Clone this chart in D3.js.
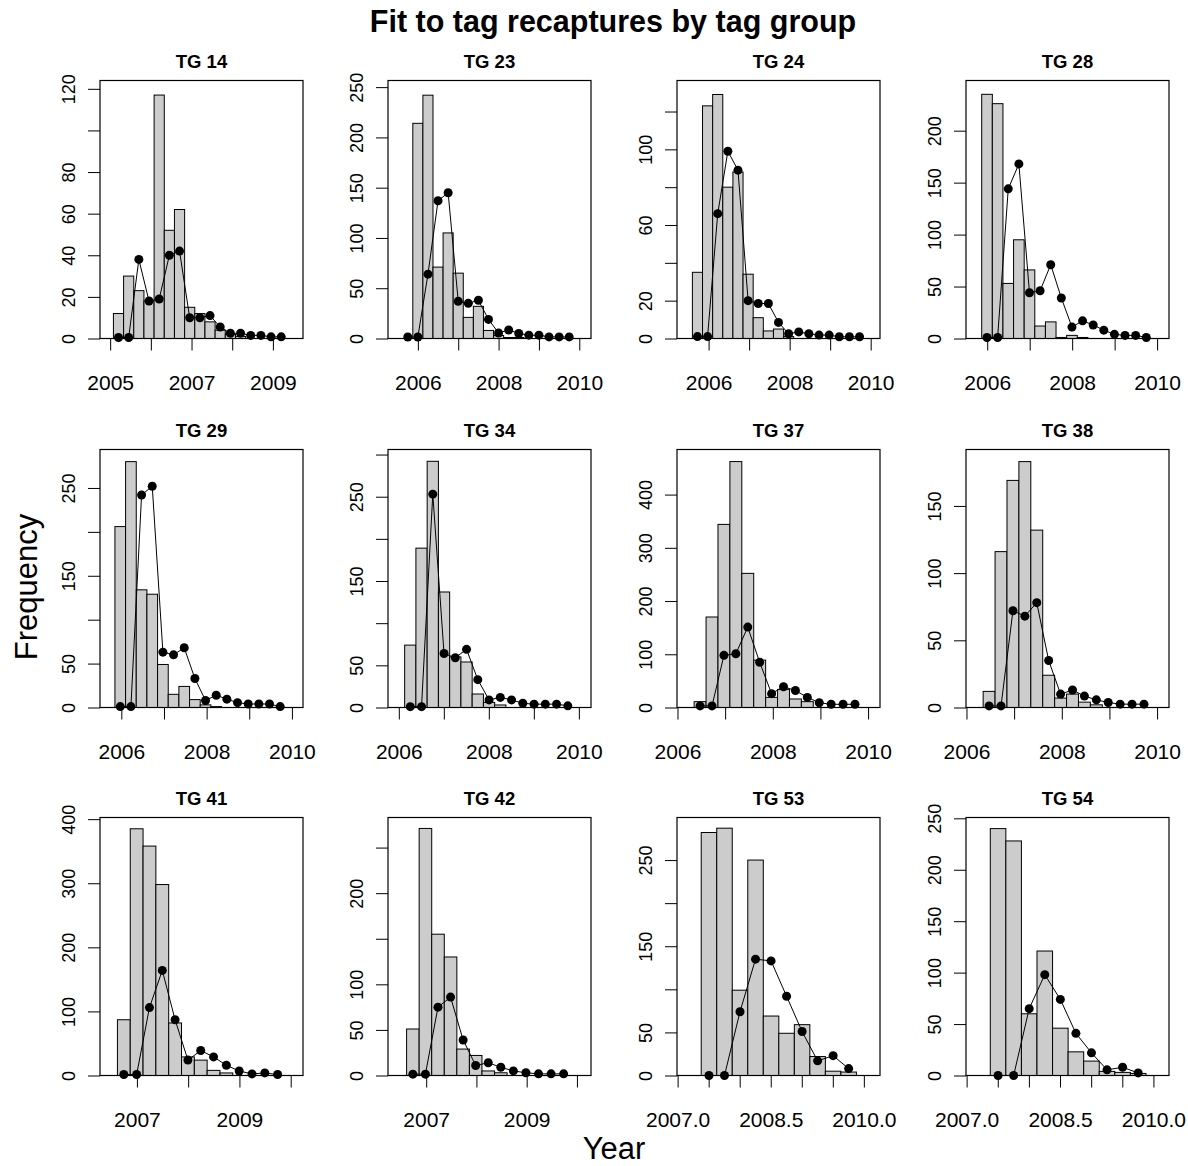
<!DOCTYPE html>
<html>
<head>
<meta charset="utf-8">
<script src="https://cdn.jsdelivr.net/npm/d3@7"></script>
<style>
  html, body { margin: 0; padding: 0; background: #fff; }
  svg { display: block; font-family: "Liberation Sans", Arial, Helvetica, sans-serif; }
</style>
</head>
<body>
<svg id="chart" width="1188" height="1166"></svg>
<script>
// Tag groups, one panel each, filled row by row
const tagGroups = ["TG 14", "TG 23", "TG 24", "TG 28", "TG 29", "TG 34",
                   "TG 37", "TG 38", "TG 41", "TG 42", "TG 53", "TG 54"];

// Left edge (decimal year) of the first quarterly recapture bin of each group
const binStarts = [2005.08, 2005.625, 2005.6, 2005.87, 2005.85, 2006.13,
                   2006.35, 2006.35, 2006.62, 2006.61, 2007.38, 2007.38];
const binWidth = 0.25;

// Observed recaptures per quarter (bars) and model fit (points)
const obs14  = [12, 30, 23, 18, 117, 52, 62, 15, 12, 8, 4, 2, 1, 0, 0, 0, 0];
const pred14 = [0.5, 0.5, 38, 18, 19, 40, 42, 10, 10, 11, 5.5, 2.5, 2.5, 1.5, 1.5, 0.8, 0.8];

const obs23  = [0, 214, 242, 71, 105, 65, 21, 32, 8, 3, 1, 1, 0, 0, 0, 0, 0];
const pred23 = [1.5, 1.5, 64, 137, 145, 37, 35, 38, 19, 5.5, 8.5, 5, 3.3, 3.3, 1.6, 1.6, 1.6];

const obs24  = [35, 123, 129, 80, 88, 34, 11, 4, 5, 1, 0, 0, 0, 0, 0, 0, 0];
const pred24 = [1, 1, 66, 99, 89, 20, 18.5, 18.5, 8.5, 2.5, 3.5, 2.5, 1.8, 1.8, 0.9, 0.9, 0.9];

const obs28  = [235, 226, 53, 95, 66, 12, 16, 1, 3, 1, 0, 0, 0, 0, 0, 0];
const pred28 = [1, 1, 144, 168, 44, 46, 71, 39, 11, 17, 13, 8, 4, 3, 3, 1];

const obs29  = [206, 280, 134, 129, 49, 15, 24, 9, 3, 1, 0, 0, 0, 0, 0, 0];
const pred29 = [1, 1, 242, 252, 63, 60, 68, 33, 8, 14, 9.5, 5.5, 4, 4, 4, 1];

const obs34  = [74, 189, 292, 137, 60, 54, 16, 6, 3, 0, 0, 0, 0, 0, 0];
const pred34 = [1, 1, 253, 64, 59, 69, 33, 9, 12, 9, 5, 4, 4, 4, 2];

const obs37  = [11, 170, 344, 462, 252, 89, 19, 34, 16, 11, 0, 0, 0, 0];
const pred37 = [3, 3, 98, 101, 151, 85, 26, 39, 32, 19, 9, 6, 6, 6];

const obs38  = [12, 116, 169, 183, 132, 24, 7, 10, 4, 2, 0, 0, 0, 0];
const pred38 = [1.2, 1.2, 72, 68, 78, 35, 10, 13, 8.5, 5.7, 3.7, 2.5, 2.5, 2.5];

const obs41  = [87, 385, 358, 298, 82, 29, 24, 8, 4, 0, 0, 0, 0];
const pred41 = [1.5, 1.5, 106, 164, 87, 24, 39, 29, 16, 7, 2.5, 4, 1.5];

const obs42  = [51, 271, 155, 130, 29, 22, 5, 3, 0, 0, 0, 0, 0];
const pred42 = [1.5, 1.5, 75, 86, 39, 11, 14, 9, 5, 3, 1.8, 1.8, 1.8];

const obs53  = [282, 287, 99, 250, 69, 49, 59, 22, 5, 4];
const pred53 = [0, 0, 74, 135, 133, 92, 51, 17, 23, 8];

const obs54  = [240, 228, 60, 121, 46, 23, 14, 4, 3, 2];
const pred54 = [0, 0, 65, 98, 74, 41, 22, 5.5, 8, 2.5];

// Axis limits of each panel
const xLimits = [[2004.75, 2009.74], [2005.26, 2010.29], [2005.22, 2010.23], [2005.5, 2010.28],
                 [2005.5, 2010.26], [2005.76, 2010.27], [2005.99, 2010.25], [2005.99, 2010.25],
                 [2006.28, 2010.24], [2006.24, 2010.28], [2006.99, 2010.26], [2006.99, 2010.25]];
const yLimits = [124, 256.6, 136.4, 248.3, 293.8, 306, 484.7, 192, 402.6, 283, 299.4, 250.8];

// Tick spacing and the tick values that carry a label
const xTickSteps = [1, 1, 1, 1, 1, 1, 1, 1, 1, 1, 0.5, 0.5];
const xTickLabels = [[2005, 2007, 2009], [2006, 2008, 2010], [2006, 2008, 2010], [2006, 2008, 2010],
                     [2006, 2008, 2010], [2006, 2008, 2010], [2006, 2008, 2010], [2006, 2008, 2010],
                     [2007, 2009], [2007, 2009], [2007.0, 2008.5, 2010.0], [2007.0, 2008.5, 2010.0]];
const yTickSteps = [20, 50, 20, 50, 50, 50, 100, 50, 100, 50, 50, 50];
const yTickLabels = [[0, 20, 40, 60, 80, 120], [0, 50, 100, 150, 200, 250], [0, 20, 60, 100],
                     [0, 50, 100, 150, 200], [0, 50, 150, 250], [0, 50, 150, 250],
                     [0, 100, 200, 300, 400], [0, 50, 100, 150], [0, 100, 200, 300, 400],
                     [0, 50, 100, 200], [0, 50, 150, 250], [0, 50, 100, 150, 200, 250]];

const observed  = [obs14, obs23, obs24, obs28, obs29, obs34, obs37, obs38, obs41, obs42, obs53, obs54];
const predicted = [pred14, pred23, pred24, pred28, pred29, pred34, pred37, pred38, pred41, pred42, pred53, pred54];

// ---- layout ----
const boxLefts = [100, 388, 677, 966];
const boxTops = [80.5, 449.5, 817.5];
const boxW = 203, boxH = 258;

const svg = d3.select("#chart");

tagGroups.forEach((name, i) => {
  const col = i % 4, row = Math.floor(i / 4);
  const g = svg.append("g")
    .attr("transform", `translate(${boxLefts[col]},${boxTops[row]})`);

  const x = d3.scaleLinear().domain(xLimits[i]).range([0, boxW]);
  const y = d3.scaleLinear().domain([0, yLimits[i]]).range([boxH, 0]);

  const edge = k => binStarts[i] + k * binWidth;
  const mid = k => binStarts[i] + (k + 0.5) * binWidth;

  // histogram of observed recaptures
  g.selectAll("rect.bar")
    .data(observed[i])
    .join("rect")
    .attr("class", "bar")
    .attr("x", (d, k) => x(edge(k)))
    .attr("width", (d, k) => x(edge(k + 1)) - x(edge(k)))
    .attr("y", d => y(d))
    .attr("height", d => y(0) - y(d))
    .attr("fill", "#cccccc")
    .attr("stroke", "#000")
    .attr("stroke-width", 1);

  // x axis
  const xDec = xTickSteps[i] < 1 ? d3.format(".1f") : d3.format("d");
  const x0 = Math.ceil(xLimits[i][0] / xTickSteps[i]) * xTickSteps[i];
  const xTicks = d3.range(x0, xLimits[i][1] + 1e-9, xTickSteps[i]).map(v => +v.toFixed(2));
  const xAx = g.append("g")
    .attr("transform", `translate(0,${boxH})`)
    .call(d3.axisBottom(x).tickValues(xTicks).tickSize(12).tickSizeOuter(0)
      .tickFormat(v => xTickLabels[i].some(l => Math.abs(l - v) < 1e-6) ? xDec(v) : ""));
  xAx.select(".domain").remove();
  xAx.selectAll(".tick line").attr("stroke", "#000").attr("stroke-width", 1);
  xAx.selectAll(".tick text")
    .attr("y", 44).attr("dy", "0.36em")
    .attr("fill", "#000").attr("font-size", 21)
    .attr("font-family", "Liberation Sans, Arial, sans-serif");

  // y axis
  const yTicks = d3.range(0, yLimits[i] + 1e-9, yTickSteps[i]);
  const yAx = g.append("g")
    .call(d3.axisLeft(y).tickValues(yTicks).tickSize(12).tickSizeOuter(0)
      .tickFormat(v => yTickLabels[i].includes(v) ? String(v) : ""));
  yAx.select(".domain").remove();
  yAx.selectAll(".tick line").attr("stroke", "#000").attr("stroke-width", 1);
  yAx.selectAll(".tick text")
    .attr("x", null).attr("dy", "0.36em")
    .attr("transform", "translate(-31,0) rotate(-90)")
    .attr("text-anchor", "middle")
    .attr("fill", "#000").attr("font-size", 18)
    .attr("font-family", "Liberation Sans, Arial, sans-serif");

  // plot frame
  g.append("rect")
    .attr("width", boxW).attr("height", boxH)
    .attr("fill", "none").attr("stroke", "#000").attr("stroke-width", 1.2);

  // fitted recaptures
  g.append("path")
    .datum(predicted[i])
    .attr("d", d3.line().x((d, k) => x(mid(k))).y(d => y(d)))
    .attr("fill", "none").attr("stroke", "#000").attr("stroke-width", 1);
  g.selectAll("circle.fit")
    .data(predicted[i])
    .join("circle")
    .attr("class", "fit")
    .attr("cx", (d, k) => x(mid(k)))
    .attr("cy", d => y(d))
    .attr("r", 4.5)
    .attr("fill", "#000");

  // panel title
  g.append("text")
    .attr("x", boxW / 2).attr("y", -12.5)
    .attr("text-anchor", "middle")
    .attr("font-weight", "bold").attr("font-size", 18.5)
    .text(name);
});

// outer title and axis titles
svg.append("text")
  .attr("x", 613).attr("y", 32)
  .attr("text-anchor", "middle")
  .attr("font-weight", "bold").attr("font-size", 30.5)
  .text("Fit to tag recaptures by tag group");

svg.append("text")
  .attr("transform", "translate(37,587) rotate(-90)")
  .attr("text-anchor", "middle")
  .attr("font-size", 31)
  .text("Frequency");

svg.append("text")
  .attr("x", 614).attr("y", 1159)
  .attr("text-anchor", "middle")
  .attr("font-size", 31)
  .text("Year");
</script>
</body>
</html>
